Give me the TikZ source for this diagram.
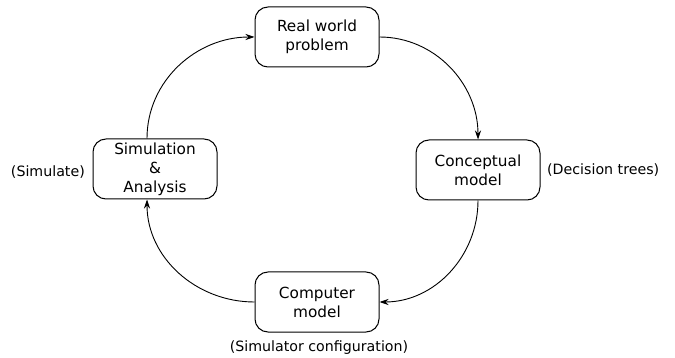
\documentclass[tikz,border=0pt]{standalone}
\usepackage{fontspec}
\setmainfont{DejaVu Sans}
\usetikzlibrary{arrows.meta}
\begin{document}
\begin{tikzpicture}[x=1pt,y=-1pt,
  stage/.style={draw, line width=1pt, rounded corners=13pt, minimum width=124pt,
    minimum height=60pt, align=center, inner sep=0pt,
    font=\fontsize{15.3}{19}\selectfont},
  note/.style={font=\fontsize{14.2}{18}\selectfont, inner sep=0pt},
  flow/.style={line width=0.9pt, -{Stealth[length=9pt,width=6pt]}}]
\useasboundingbox (0,0) rectangle (675,358);

% the four stages of the modelling cycle
\node[stage] (real) at (317,37)  {Real world\\problem};
\node[stage] (conc) at (478,170) {Conceptual\\model};
\node[stage] (comp) at (317,302) {Computer\\model};
\node[stage] (sim)  at (155,169) {Simulation\\\&\\Analysis};

% side notes
\node[note, anchor=east] (simnote)  at (85,172)  {(Simulate)};
\node[note, anchor=west] (concnote) at (547,170) {(Decision trees)};
\node[note] (compnote) at (319,348) {(Simulator configuration)};

% cycle arrows
\draw[flow] ([xshift=-8pt]sim.north) to[out=90,in=180] (real.west);
\draw[flow] (real.east) to[out=0,in=90] (conc.north);
\draw[flow] (conc.south) to[out=-90,in=0] (comp.east);
\draw[flow] (comp.west) to[out=180,in=-90] ([xshift=-8pt]sim.south);
\end{tikzpicture}
\end{document}
